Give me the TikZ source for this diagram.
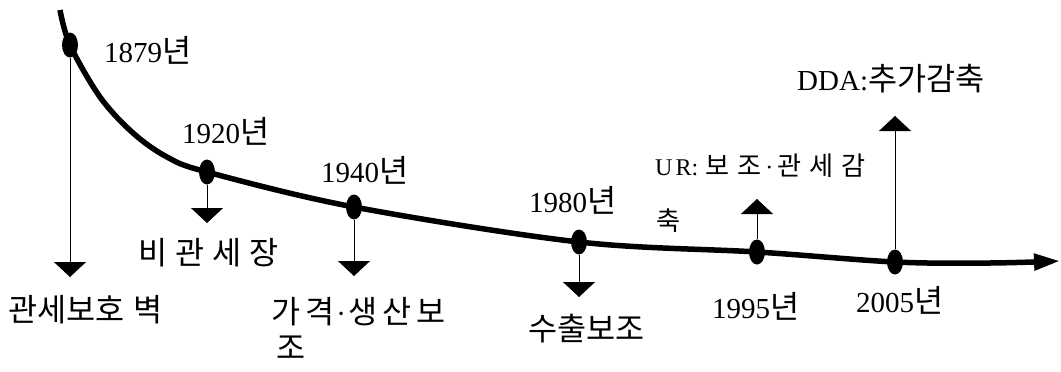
\documentclass[tikz,border=0pt]{standalone}
\usepackage{fontspec}
\setmainfont{Liberation Serif}
\newfontfamily\kr[Scale=1.09]{Noto Sans CJK KR}
\usetikzlibrary{shapes.geometric,arrows.meta}
\begin{document}
\begin{tikzpicture}[x=1pt,y=-1pt,
  dot/.style={ellipse,fill=black,minimum width=16pt,minimum height=25pt,inner sep=0pt},
  conn/.style={line width=1pt,-{Triangle[width=32pt,length=15pt]}},
  lbl/.style={inner sep=0pt,anchor=base west,font=\fontsize{29}{32}\selectfont},
  small/.style={inner sep=0pt,anchor=base west,font=\fontsize{24}{28}\selectfont},
  curve/.style={line width=5.5pt,-{Triangle[width=16pt,length=26pt]}}]
\useasboundingbox (0,0) rectangle (1061,372);
% dots
\node[dot] (d1879) at (70,45) {};
\node[dot] (d1920) at (207,172) {};
\node[dot] (d1940) at (354,207) {};
\node[dot] (d1980) at (579,242) {};
\node[dot] (d1995) at (757,252) {};
\node[dot] (d2005) at (895,262) {};
\coordinate (cstart) at (60,10);
\coordinate (cend) at (1060,261);
% main curve
\draw[curve] plot[smooth,tension=0.55] coordinates {(cstart) (d1879.center) (100,97) (133,133) (167,157) (d1920.center) (d1940.center) (d1980.center) (d1995.center) (d2005.center) (990,263) (cend)};
% arrow ends
\coordinate (a1879) at (70,277);
\coordinate (a1920) at (207,223);
\coordinate (a1940) at (354,276);
\coordinate (a1980) at (579,297);
\coordinate (a1995) at (757,199);
\coordinate (a2005) at (895,116);
\draw[conn] (d1879) -- (a1879);
\draw[conn] (d1920) -- (a1920);
\draw[conn] (d1940) -- (a1940);
\draw[conn] (d1980) -- (a1980);
\draw[conn] (d1995) -- (a1995);
\draw[conn] (d2005) -- (a2005);
% year labels
\node[lbl] (y1879) at (104,62) {1879{\kr 년}};
\node[lbl] (y1920) at (182,143) {1920{\kr 년}};
\node[lbl] (y1940) at (321,182) {1940{\kr 년}};
\node[lbl] (y1980) at (529,212) {1980{\kr 년}};
\node[lbl] (y1995) at (712,318) {1995{\kr 년}};
\node[lbl] (y2005) at (856,312) {2005{\kr 년}};
% event labels
\node[lbl] (t1879) at (8,321) {{\kr 관세보호}\hspace{9pt}{\kr 벽}};
\node[lbl] (t1920) at (138,264) {{\kr 비}\hspace{8pt}{\kr 관}\hspace{8pt}{\kr 세}\hspace{8pt}{\kr 장}};
\node[lbl] (t1940) at (271,323) {{\kr 가}\hspace{5pt}{\kr 격}\hspace{2pt}·\hspace{2pt}{\kr 생}\hspace{5pt}{\kr 산}\hspace{5pt}{\kr 보}};
\node[lbl] (t1940b) at (276,359) {\kr 조};
\node[lbl] (t1980) at (528,340) {{\kr 수출보조}};
\node[small] (t1995) at (655,175) {U\hspace{3pt}R:\hspace{7pt}{\kr 보}\hspace{8pt}{\kr 조}\hspace{4pt}·\hspace{4pt}{\kr 관}\hspace{8pt}{\kr 세}\hspace{8pt}{\kr 감}};
\node[small] (t1995b) at (656,230) {\kr 축};
\node[lbl] (t2005) at (797,90) {DDA:{\kr 추가감축}};
\end{tikzpicture}
\end{document}
